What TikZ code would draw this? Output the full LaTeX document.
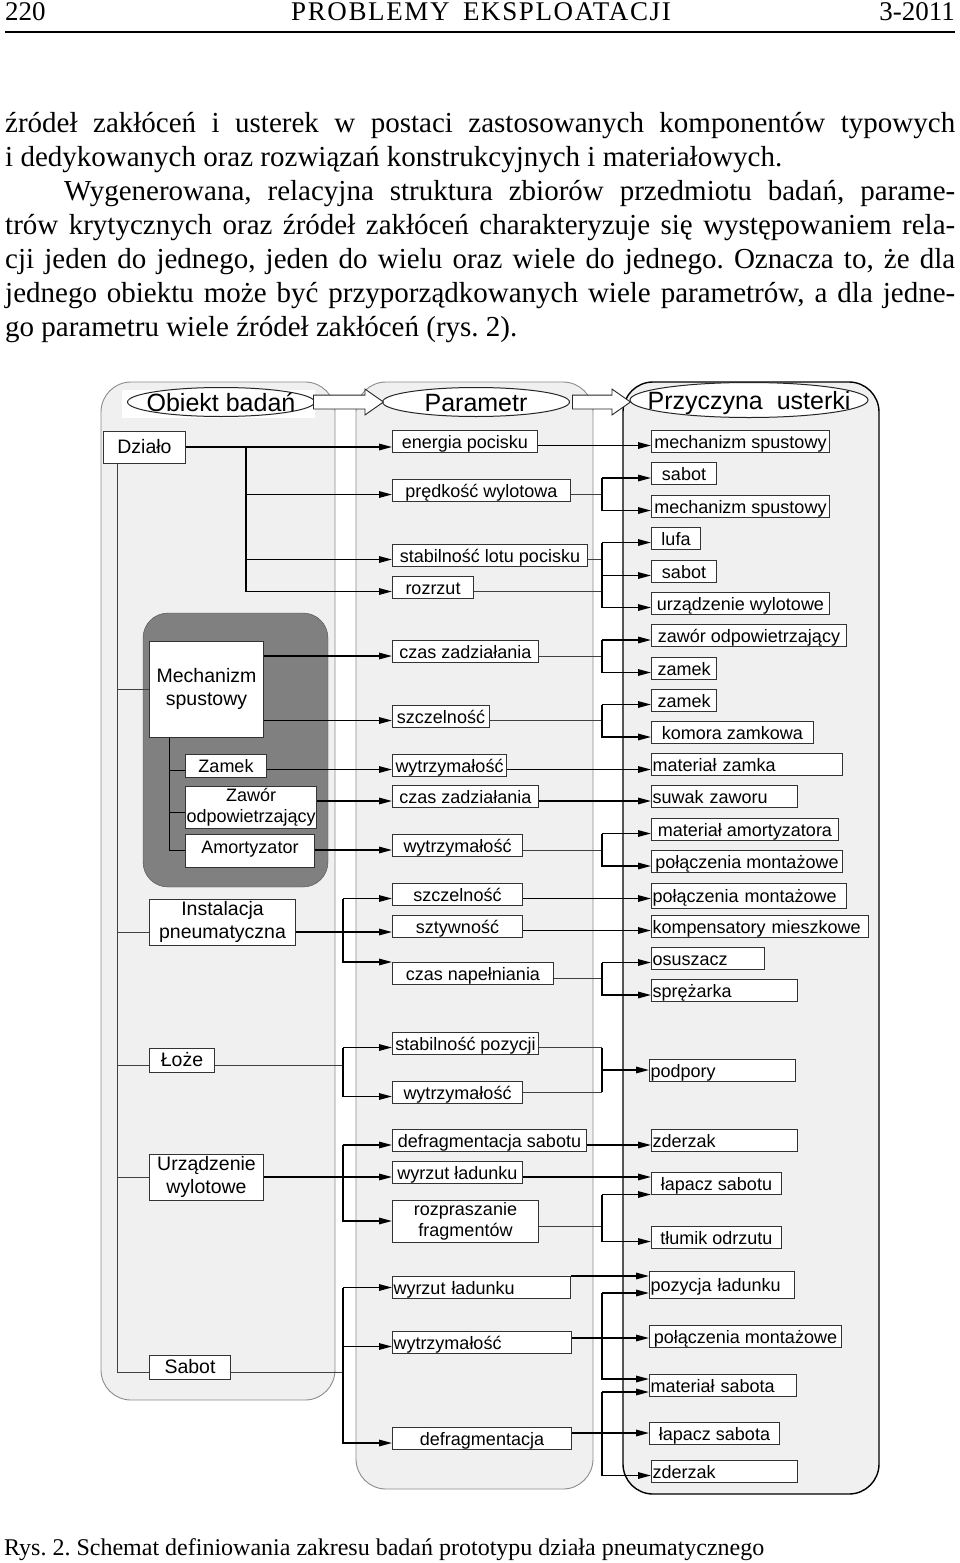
\documentclass[tikz,border=0pt]{standalone}
\usepackage{fontspec}
\setmainfont{Liberation Serif}
\newfontfamily\diagfont{Liberation Sans}
\newfontfamily\headfont[LetterSpace=6]{Liberation Serif}
\usetikzlibrary{arrows.meta,shapes.geometric,shapes.arrows}
\frenchspacing

\newcommand{\elltext}[1]{\makebox[0pt]{\raisebox{-0.36em}[0pt][0pt]{#1}}}

\tikzset{
  panel/.style={draw=black!45, line width=0.9pt, fill=black!6, rounded corners=30pt},
  box/.style={draw=black!80, line width=1pt, fill=white, anchor=west, inner sep=1pt,
    minimum height=22pt, text height=15.5pt, text depth=1.5pt,
    font=\diagfont\fontsize{18}{21}\selectfont},
  twoline/.style={draw=black!80, line width=1pt, fill=white, anchor=west, inner sep=1pt,
    align=center, font=\diagfont\fontsize{18}{21}\selectfont},
  part/.style={twoline, font=\diagfont\fontsize{19.5}{22.5}\selectfont},
  title/.style={ellipse, draw=black!85, line width=1pt, fill=white, inner sep=0pt,
    font=\diagfont\fontsize{25}{30}\selectfont},
  bigarrow/.style={single arrow, draw=black!85, line width=0.9pt, fill=white, inner sep=6.5pt,
    single arrow head extend=6pt, single arrow tip angle=70, anchor=west},
  arr/.style={-{Triangle[length=13pt,width=6.5pt]}, line width=1.5pt},
  feed/.style={line width=0.9pt, draw=black!75},
  tree/.style={line width=0.9pt, draw=black!75},
  port/.style={yshift=-4.5pt},
  body/.style={anchor=base west, inner sep=0pt, font=\fontsize{29}{34}\selectfont},
}

\begin{document}
\begin{tikzpicture}[x=1pt, y=-1pt]
  \fill[white] (0,0) rectangle (960,1563);
  \useasboundingbox (0,0) rectangle (960,1563);

  % Draw the page header and the text above the figure.
  \node[anchor=base west, inner sep=0pt, font=\fontsize{27}{30}\selectfont] (pageno) at (5,21) {220};
  \node[anchor=base, inner sep=0pt, font=\headfont\fontsize{27}{30}\selectfont] (journal) at (481,21) {PROBLEMY\hspace{0.5em}EKSPLOATACJI};
  \node[anchor=base east, inner sep=0pt, font=\fontsize{27}{30}\selectfont] (issue) at (955,21) {3-2011};
  \draw[line width=1.6pt] (5,32) -- (955,32);
  \node[body] (line1) at (5,132.5) {\makebox[950pt][s]{źródeł zakłóceń i usterek w postaci zastosowanych komponentów typowych}};
  \node[body] (line2) at (5,166.5) {i dedykowanych oraz rozwiązań konstrukcyjnych i materiałowych.};
  \node[body] (line3) at (64,200.5) {\makebox[891pt][s]{Wygenerowana, relacyjna struktura zbiorów przedmiotu badań, parame-}};
  \node[body] (line4) at (5,234.5) {\makebox[950pt][s]{trów krytycznych oraz źródeł zakłóceń charakteryzuje się występowaniem rela-}};
  \node[body] (line5) at (5,268.5) {\makebox[950pt][s]{cji jeden do jednego, jeden do wielu oraz wiele do jednego. Oznacza to, że dla}};
  \node[body] (line6) at (5,302.5) {\makebox[950pt][s]{jednego obiektu może być przyporządkowanych wiele parametrów, a dla jedne-}};
  \node[body] (line7) at (5,336.5) {go parametru wiele źródeł zakłóceń (rys. 2).};

  % Draw the three panels and the group of the trigger.
  \draw[panel] (101,382) rectangle (335,1400);
  \draw[panel] (356,382) rectangle (593,1489);
  \draw[panel, draw=black, line width=1.4pt] (623,382) rectangle (879,1494);
  \draw[draw=black!70, fill=black!50, rounded corners=25pt] (143,613) rectangle (328,887);
  \fill[white] (122,390) rectangle (315,418);

  % Draw the headings and the arrows between them.
  \node[title, minimum width=187pt, minimum height=29pt] (obiekt) at (221,402) {\elltext{Obiekt badań}};
  \node[title, minimum width=187pt, minimum height=29pt] (param) at (476,402) {\elltext{Parametr}};
  \node[title, minimum width=238pt, minimum height=35pt] (przyczyna) at (749,400) {\elltext{Przyczyna\ \ usterki}};
  \node[bigarrow, minimum height=70pt] (ar1) at ([xshift=-2pt]obiekt.east) {};
  \node[bigarrow, minimum height=58pt] (ar2) at ([xshift=2pt]param.east) {};

  % Columns of the junctions.
  \coordinate (trunk) at (117,0);
  \coordinate (inner) at (169,0);
  \coordinate (jA) at (246,0);
  \coordinate (jB) at (343,0);
  \coordinate (jC) at (602,0);

  % Draw the objects.
  \node[part, minimum width=82pt, minimum height=32pt] (dzialo) at (103,447) {Działo};
  \node[part, minimum width=114pt, minimum height=96pt] (mech) at (149,689) {Mechanizm\\spustowy};
  \node[box, minimum width=81pt, minimum height=23pt] (zamek) at (185,765.5) {Zamek};
  \node[twoline, minimum width=130pt, minimum height=42pt] (zawor) at (185,807) {Zawór\\odpowietrzający};
  \node[box, minimum width=129pt, minimum height=33pt, text depth=10.5pt] (amort) at (185,850.5) {Amortyzator};
  \node[part, minimum width=146pt, minimum height=46pt] (instal) at (149,922) {Instalacja\\pneumatyczna};
  \node[part, minimum width=65pt, minimum height=24pt] (loze) at (149,1060) {Łoże};
  \node[part, minimum width=114pt, minimum height=46pt] (urzadz) at (149,1177) {Urządzenie\\wylotowe};
  \node[part, minimum width=81pt, minimum height=24pt] (sabot) at (149,1367) {Sabot};

  % Draw the parameters.
  \node[box, minimum width=145pt] (energia) at (392,441) {energia pocisku};
  \node[box, minimum width=178pt] (predkosc) at (392,490) {prędkość wylotowa};
  \node[box, minimum width=195pt] (stabil) at (392,555) {stabilność lotu pocisku};
  \node[box, minimum width=81pt] (rozrzut) at (392,587) {rozrzut};
  \node[box, minimum width=146pt] (czas1) at (392,651.5) {czas zadziałania};
  \node[box, minimum width=97pt] (szczel1) at (392,716) {szczelność};
  \node[box, minimum width=114pt] (wytrz1) at (392,765) {wytrzymałość};
  \node[box, minimum width=146pt] (czas2) at (392,796.5) {czas zadziałania};
  \node[box, minimum width=130pt] (wytrz2) at (392,845.5) {wytrzymałość};
  \node[box, minimum width=130pt] (szczel2) at (392,894) {szczelność};
  \node[box, minimum width=130pt] (sztyw) at (392,926) {sztywność};
  \node[box, minimum width=161pt] (napel) at (392,973.5) {czas napełniania};
  \node[box, minimum width=146pt] (stabpoz) at (392,1043) {stabilność pozycji};
  \node[box, minimum width=130pt] (wytrz3) at (392,1092) {wytrzymałość};
  \node[box, minimum width=194pt] (defsab) at (392,1140.5) {defragmentacja sabotu};
  \node[box, minimum width=130pt] (wyrzut1) at (392,1172.5) {wyrzut ładunku};
  \node[twoline, minimum width=146pt, minimum height=42pt] (rozpr) at (392,1221) {rozpraszanie\\fragmentów};
  \node[box, text width=176pt, align=left] (wyrzut2) at (392,1287.5) {wyrzut ładunku};
  \node[box, text width=177pt, align=left] (wytrz4) at (392,1342) {wytrzymałość};
  \node[box, minimum width=179pt] (defrag) at (392,1438.5) {defragmentacja};

  % Draw the causes.
  \node[box, minimum width=178pt] (mech1) at (651,441.5) {mechanizm spustowy};
  \node[box, minimum width=65pt] (sabot1) at (651,473.5) {sabot};
  \node[box, minimum width=178pt] (mech2) at (651,506) {mechanizm spustowy};
  \node[box, minimum width=49pt] (lufa) at (651,538) {lufa};
  \node[box, minimum width=65pt] (sabot2) at (651,571) {sabot};
  \node[box, minimum width=178pt] (urzw) at (651,603) {urządzenie wylotowe};
  \node[box, minimum width=195pt] (zaworc) at (651,635.5) {zawór odpowietrzający};
  \node[box, minimum width=65pt] (zamek1) at (651,668) {zamek};
  \node[box, minimum width=65pt] (zamek2) at (651,700) {zamek};
  \node[box, minimum width=162pt] (komora) at (651,732.5) {komora zamkowa};
  \node[box, text width=189pt, align=left] (matzam) at (651,764.5) {materiał zamka};
  \node[box, text width=144pt, align=left] (suwak) at (651,796.5) {suwak zaworu};
  \node[box, minimum width=187pt] (matam) at (651,829) {materiał amortyzatora};
  \node[box, minimum width=191pt] (polacz1) at (651,861.5) {połączenia montażowe};
  \node[box, text width=193pt, align=left, minimum height=25pt] (polacz2) at (651,895.5) {połączenia montażowe};
  \node[box, text width=215pt, align=left] (komp) at (651,926.5) {kompensatory mieszkowe};
  \node[box, text width=111pt, align=left] (osusz) at (651,958) {osuszacz};
  \node[box, text width=144pt, align=left] (sprez) at (651,990.5) {sprężarka};
  \node[box, text width=144pt, align=left] (podpory) at (649,1070) {podpory};
  \node[box, text width=144pt, align=left] (zderz1) at (651,1140) {zderzak};
  \node[box, minimum width=130pt] (lapacz1) at (651,1183) {łapacz sabotu};
  \node[box, minimum width=130pt] (tlumik) at (651,1237) {tłumik odrzutu};
  \node[box, text width=143pt, align=left, minimum height=27pt] (pozycja) at (649,1284.5) {pozycja ładunku};
  \node[box, minimum width=192pt] (polacz3) at (649,1336.5) {połączenia montażowe};
  \node[box, text width=145pt, align=left] (matsab) at (649,1385) {materiał sabota};
  \node[box, minimum width=130pt] (lapacz2) at (649,1433) {łapacz sabota};
  \node[box, text width=144pt, align=left] (zderz2) at (651,1471) {zderzak};

  % Draw the tree of the objects.
  \draw[tree] ([xshift=14pt]dzialo.south west) |- ([yshift=-5pt]sabot.west);
  \draw[tree] (mech.west -| trunk) -- (mech.west);
  \draw[tree] ([yshift=-10pt]instal.west -| trunk) -- ([yshift=-10pt]instal.west);
  \draw[tree] ([yshift=-5pt]loze.west -| trunk) -- ([yshift=-5pt]loze.west);
  \draw[tree] (urzadz.west -| trunk) -- (urzadz.west);
  \draw[tree, draw=black] ([xshift=20pt]mech.south west) |- (amort.west);
  \draw[tree, draw=black] ([port]zamek.west -| inner) -- ([port]zamek.west);
  \draw[tree, draw=black] ([yshift=-5pt]zawor.west -| inner) -- ([yshift=-5pt]zawor.west);

  % Draw the arrows from the objects to the parameters.
  \draw[arr] (dzialo.east) -- (dzialo.east -| energia.west);
  \draw[arr] (dzialo.east -| jA) |- ([port]rozrzut.west);
  \draw[arr] ([port]predkosc.west -| jA) -- ([port]predkosc.west);
  \draw[arr] ([port]stabil.west -| jA) -- ([port]stabil.west);
  \draw[arr] ([port]czas1.west -| mech.east) -- ([port]czas1.west);
  \draw[arr] ([port]szczel1.west -| mech.east) -- ([port]szczel1.west);
  \draw[arr] ([port]wytrz1.west -| zamek.east) -- ([port]wytrz1.west);
  \draw[arr] ([port]czas2.west -| zawor.east) -- ([port]czas2.west);
  \draw[arr] ([port]wytrz2.west -| amort.east) -- ([port]wytrz2.west);
  \draw[arr] ([yshift=-10pt]instal.east) -- ([yshift=-10pt]instal.east -| sztyw.west);
  \draw[arr] ([port]szczel2.west -| jB) -- ([port]szczel2.west);
  \draw[arr] ([port]szczel2.west -| jB) |- (napel.north west);
  \draw[feed] ([yshift=-5pt]loze.east) -- ([yshift=-5pt]loze.east -| jB);
  \draw[arr] ([port]stabpoz.west -| jB) -- ([port]stabpoz.west);
  \draw[arr] ([port]stabpoz.west -| jB) |- ([port]wytrz3.west);
  \draw[arr] (urzadz.east) -- (urzadz.east -| wyrzut1.west);
  \draw[arr] ([port]defsab.west -| jB) -- ([port]defsab.west);
  \draw[arr] ([port]defsab.west -| jB) |- (rozpr.west);
  \draw[feed] ([yshift=-5pt]sabot.east) -- ([yshift=-5pt]sabot.east -| jB);
  \draw[arr] (wyrzut2.west -| jB) -- (wyrzut2.west);
  \draw[arr] ([port]wytrz4.west -| jB) -- ([port]wytrz4.west);
  \draw[arr] (wyrzut2.west -| jB) |- ([port]defrag.west);

  % Draw the arrows from the parameters to the causes.
  \draw[arr] ([port]energia.east) -- ([port]energia.east -| mech1.west);
  \draw[feed] ([port]predkosc.east) -- ([port]predkosc.east -| jC);
  \draw[arr] ([port]sabot1.west -| jC) -- ([port]sabot1.west);
  \draw[arr] ([port]sabot1.west -| jC) |- ([port]mech2.west);
  \draw[feed] ([port]stabil.east) -- ([port]stabil.east -| jC);
  \draw[feed] ([port]rozrzut.east) -- ([port]rozrzut.east -| jC);
  \draw[arr] ([port]lufa.west -| jC) -- ([port]lufa.west);
  \draw[arr] ([port]sabot2.west -| jC) -- ([port]sabot2.west);
  \draw[arr] ([port]lufa.west -| jC) |- ([port]urzw.west);
  \draw[feed] ([port]czas1.east) -- ([port]czas1.east -| jC);
  \draw[arr] ([port]zaworc.west -| jC) -- ([port]zaworc.west);
  \draw[arr] ([port]zaworc.west -| jC) |- ([port]zamek1.west);
  \draw[feed] ([port]szczel1.east) -- ([port]szczel1.east -| jC);
  \draw[arr] ([port]zamek2.west -| jC) -- ([port]zamek2.west);
  \draw[arr] ([port]zamek2.west -| jC) |- ([port]komora.west);
  \draw[arr] ([port]wytrz1.east) -- ([port]wytrz1.east -| matzam.west);
  \draw[arr] ([port]czas2.east) -- ([port]czas2.east -| suwak.west);
  \draw[feed] ([port]wytrz2.east) -- ([port]wytrz2.east -| jC);
  \draw[arr] ([port]matam.west -| jC) -- ([port]matam.west);
  \draw[arr] ([port]matam.west -| jC) |- ([port]polacz1.west);
  \draw[arr] ([port]szczel2.east) -- ([port]szczel2.east -| polacz2.west);
  \draw[arr] ([port]sztyw.east) -- ([port]sztyw.east -| komp.west);
  \draw[feed] ([port]napel.east) -- ([port]napel.east -| jC);
  \draw[arr] ([port]osusz.west -| jC) -- ([port]osusz.west);
  \draw[arr] ([port]osusz.west -| jC) |- ([port]sprez.west);
  \draw[feed] ([port]stabpoz.east) -- ([port]stabpoz.east -| jC);
  \draw[feed] (wytrz3.east) -- (wytrz3.east -| jC);
  \draw[line width=1.5pt] ([port]stabpoz.east -| jC) -- (wytrz3.east -| jC);
  \draw[arr] (podpory.west -| jC) -- (podpory.west);
  \draw[arr] ([port]defsab.east) -- ([port]defsab.east -| zderz1.west);
  \draw[arr] ([port]wyrzut1.east) -- ([port]wyrzut1.east -| lapacz1.west);
  \draw[feed] ([yshift=-5pt]rozpr.east) -- ([yshift=-5pt]rozpr.east -| jC);
  \draw[arr] (lapacz1.south west -| jC) -- (lapacz1.south west);
  \draw[arr] (lapacz1.south west -| jC) |- ([port]tlumik.west);
  \draw[arr] (wyrzut2.north east) -- (wyrzut2.north east -| pozycja.west);
  \draw[arr] ([yshift=4pt]wytrz4.east) -- ([yshift=4pt]wytrz4.east -| polacz3.west);
  \draw[arr] ([yshift=-8.5pt]pozycja.west -| jC) -- ([yshift=-8.5pt]pozycja.west);
  \draw[arr] ([yshift=-8.5pt]pozycja.west -| jC) |- ([yshift=6pt]matsab.west);
  \draw[arr] (lapacz2.west -| defrag.east) -- (lapacz2.west);
  \draw[arr] ([yshift=-7pt]matsab.west -| jC) -- ([yshift=-7pt]matsab.west);
  \draw[arr] ([yshift=-7pt]matsab.west -| jC) |- ([port]zderz2.west);

  % Draw the caption.
  \node[anchor=base west, inner sep=0pt, font=\fontsize{24}{28}\selectfont] (caption) at (4,1555) {Rys. 2. Schemat definiowania zakresu badań prototypu działa pneumatycznego};
\end{tikzpicture}
\end{document}
